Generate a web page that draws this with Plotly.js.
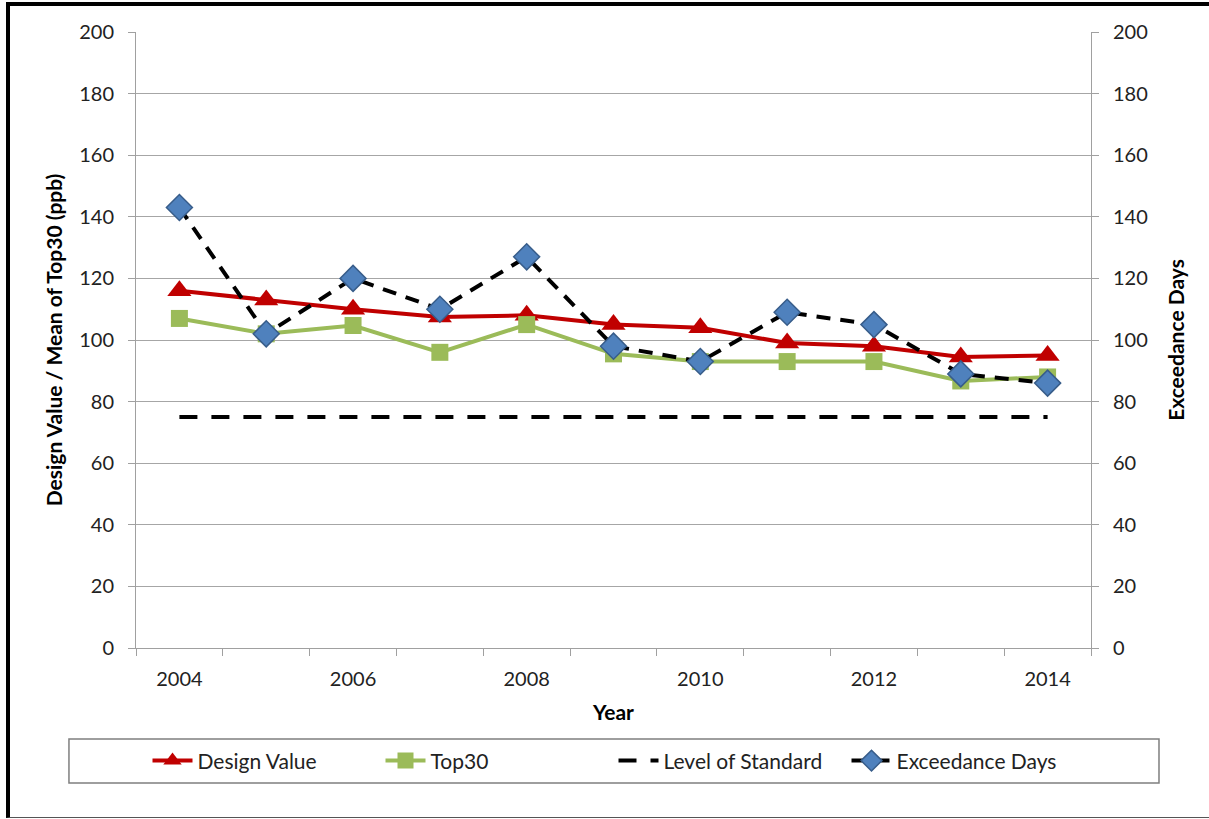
<!DOCTYPE html>
<html>
<head>
<meta charset="utf-8">
<script src="https://cdn.plot.ly/plotly-3.0.1.min.js"></script>
<style>
html,body{margin:0;padding:0;background:#fff;}
#wrap{position:relative;width:1209px;height:819px;}
#chart{position:absolute;left:0;top:0;width:1209px;height:819px;}
#frame{position:absolute;left:6px;top:2px;width:1210px;height:811px;border-left:4px solid #000;border-top:4px solid #000;border-bottom:1px solid #555;pointer-events:none;}
</style>
</head>
<body>
<div id="wrap"><div id="chart"></div><div id="frame"></div></div>
<script>
const years = [2004, 2005, 2006, 2007, 2008, 2009, 2010, 2011, 2012, 2013, 2014];
const designValue = [116, 113, 110, 107.5, 108, 105, 104, 99, 98, 94.5, 95];
const top30 = [107, 102, 104.7, 96, 105, 95.5, 93, 93, 93, 86.7, 88];
const levelOfStandard = [75, 75, 75, 75, 75, 75, 75, 75, 75, 75, 75];
const exceedanceDays = [143, 102, 120, 110, 127, 98, 93, 109, 105, 89, 86];
const xTickLabels = [2004, 2006, 2008, 2010, 2012, 2014];
const yTicks = [0, 20, 40, 60, 80, 100, 120, 140, 160, 180, 200];

const boundaries = years.map(y => y - 0.5).concat([years[years.length - 1] + 0.5]);
const FONT = 'Lato, "Liberation Sans", sans-serif';

const traces = [
  {x: years, y: designValue, name: 'Design Value', type: 'scatter', mode: 'lines+markers',
   line: {color: '#C00000', width: 4},
   marker: {symbol: 'triangle-up', size: 21, color: '#C00000', line: {width: 0}}},
  {x: years, y: top30, name: 'Top30', type: 'scatter', mode: 'lines+markers',
   line: {color: '#9BBB59', width: 4},
   marker: {symbol: 'square', size: 17, color: '#9BBB59', line: {width: 0}}},
  {x: years, y: levelOfStandard, name: 'Level of Standard', type: 'scatter', mode: 'lines',
   line: {color: '#000000', width: 4, dash: '18px,14px'}},
  {x: years, y: exceedanceDays, name: 'Exceedance Days', type: 'scatter', mode: 'lines+markers',
   yaxis: 'y2',
   line: {color: '#000000', width: 4, dash: '14px,10px'},
   marker: {symbol: 'diamond', size: 20, color: '#4F81BD', line: {color: '#385D8A', width: 1.5}}}
];

const axisCommon = {
  range: [0, 200], tickvals: yTicks, ticks: 'outside', ticklen: 7, tickcolor: '#A0A0A0',
  showline: true, linecolor: '#A0A0A0', linewidth: 1, zeroline: false,
  tickfont: {family: FONT, size: 20, color: '#222'}, fixedrange: true
};

const layout = {
  width: 1209, height: 819,
  margin: {l: 136, r: 118, t: 32, b: 171},
  paper_bgcolor: '#fff', plot_bgcolor: '#fff',
  showlegend: true,
  font: {family: FONT, color: '#222'},
  xaxis: {
    range: [2003.5, 2014.5], tickvals: xTickLabels, ticktext: xTickLabels.map(String),
    ticks: '', showgrid: false, zeroline: false,
    showline: true, linecolor: '#A0A0A0', linewidth: 1,
    ticklabelstandoff: 13,
    tickfont: {family: FONT, size: 20, color: '#222'},
    minor: {tickvals: boundaries, ticks: 'outside', ticklen: 7, tickcolor: '#A0A0A0', showgrid: false},
    title: {text: '<b>Year</b>', font: {family: FONT, size: 21, color: '#000'}, standoff: 16}
  },
  yaxis: Object.assign({}, axisCommon, {
    showgrid: true, gridcolor: '#A6A6A6', gridwidth: 1,
    ticklabelstandoff: 10,
    title: {text: '<b>Design Value / Mean of Top30 (ppb)</b>', font: {family: FONT, size: 21, color: '#000'}, standoff: 10}
  }),
  yaxis2: Object.assign({}, axisCommon, {
    overlaying: 'y', side: 'right', showgrid: false,
    ticklabelstandoff: 10,
    title: {text: '<b>Exceedance Days</b>', font: {family: FONT, size: 21, color: '#000'}, standoff: 22}
  }),
  legend: {
    orientation: 'h', x: 0.5, xanchor: 'center', y: -0.1834, yanchor: 'middle',
    font: {family: FONT, size: 21, color: '#222'}, bgcolor: 'rgba(0,0,0,0)', borderwidth: 0,
    itemwidth: 40, entrywidth: 178, entrywidthmode: 'pixels'
  },
  shapes: [
    {type: 'rect', xref: 'paper', yref: 'paper', x0: -0.0702, x1: 1.0712, y0: -0.2192, y1: -0.1477,
     line: {color: '#7F7F7F', width: 1.5}, fillcolor: 'rgba(0,0,0,0)', layer: 'below'}
  ]
};

Plotly.newPlot('chart', traces, layout, {displayModeBar: false, staticPlot: true});
</script>
</body>
</html>
